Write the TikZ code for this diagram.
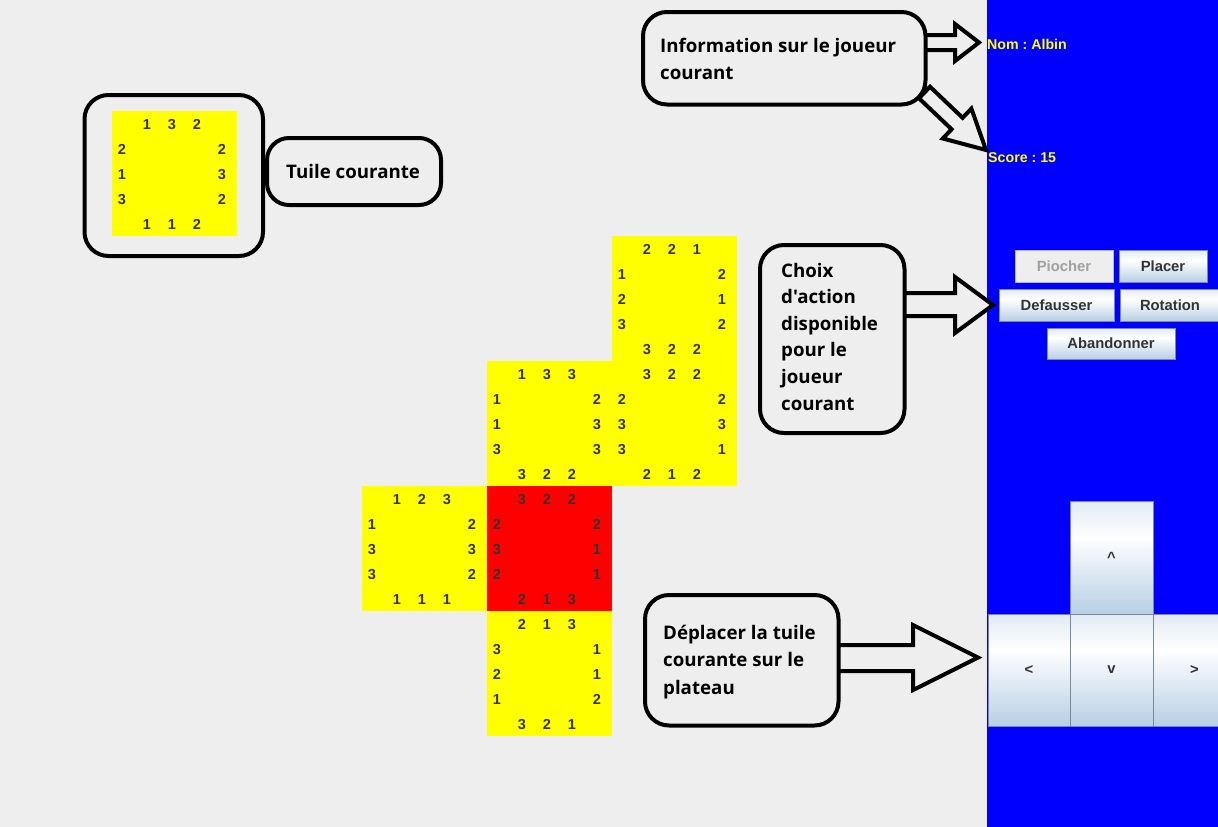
\documentclass[tikz,border=0pt]{standalone}
\usepackage{fontspec}
\setmainfont{Liberation Sans}
\newfontfamily\callfont{Open Sans}
\usetikzlibrary{calc}
\frenchspacing
\definecolor{bg}{HTML}{EEEEEE}
\definecolor{panel}{HTML}{0000FF}
\definecolor{tileY}{HTML}{FFFF00}
\definecolor{tileR}{HTML}{FF0000}
\definecolor{num}{HTML}{333333}
\definecolor{btnT}{HTML}{E1EAF3}
\definecolor{btnB}{HTML}{B8CFE5}
\definecolor{btnLine}{HTML}{7A8A99}
\definecolor{disLine}{HTML}{B8B8B8}
\definecolor{disTxt}{HTML}{A0A0A0}
\definecolor{nameY}{HTML}{FFFF00}
\pgfdeclareverticalshading{btnshade}{100bp}{color(0bp)=(btnB); color(25bp)=(btnB); color(59bp)=(white); color(75bp)=(btnT); color(100bp)=(btnT)}
\tikzset{
  tilebox/.style={minimum width=125pt,minimum height=125pt,inner sep=0pt,outer sep=0pt},
  numtxt/.style={inner sep=0pt,text=num,font=\bfseries\fontsize{14.5}{14.5}\selectfont},
  callbox/.style={draw=black,fill=bg,line width=4pt,rounded corners=24pt,inner sep=0pt},
  calltxt/.style={inner sep=0pt,anchor=base west,text=black,font=\callfont\bfseries\fontsize{18.7}{18.7}\selectfont},
  blockarrow/.style={draw=black,fill=bg,line width=4pt,line join=miter},
  btn/.style={draw=btnLine,line width=1pt,shade,shading=btnshade,inner sep=0pt,text=num,font=\bfseries\fontsize{14.8}{14.8}\selectfont},
  disbtn/.style={draw=disLine,line width=1pt,fill=bg,inner sep=0pt,text=disTxt,font=\bfseries\fontsize{14.8}{14.8}\selectfont},
  paneltxt/.style={inner sep=0pt,anchor=base west,text=nameY,font=\bfseries\fontsize{14.2}{14.2}\selectfont}
}
\newcommand\mytile[8]{%
  \node[tilebox,fill=#4] (#1) at (#2+62.5,#3+62.5) {};
  \foreach \v [count=\i] in {#5} {\node[numtxt] (#1t\i) at ($(#1.north west)+(10+25*\i,13.5)$) {\v};}
  \foreach \v [count=\i] in {#6} {\node[numtxt] (#1l\i) at ($(#1.north west)+(10,13.5+25*\i)$) {\v};}
  \foreach \v [count=\i] in {#7} {\node[numtxt] (#1r\i) at ($(#1.north west)+(110,13.5+25*\i)$) {\v};}
  \foreach \v [count=\i] in {#8} {\node[numtxt] (#1b\i) at ($(#1.north west)+(10+25*\i,113.5)$) {\v};}
}
\begin{document}
\begin{tikzpicture}[x=1pt,y=-1pt]
\useasboundingbox (0,0) rectangle (1218,827);
\clip (0,0) rectangle (1218,827);
\fill[bg] (0,0) rectangle (1218,827);
\fill[panel] (987,0) rectangle (1218,827);

% arrows
\draw[blockarrow] (921,35) -- (955,35) -- (955,24) -- (979,42.5) -- (955,61) -- (955,50) -- (921,50) -- cycle;
\draw[blockarrow] (930.0,86.7) -- (962.6,117.8) -- (971.4,108.6) -- (986,150) -- (942.8,138.5) -- (951.6,129.3) -- (919.0,98.3) -- cycle;
\draw[blockarrow] (900,293) -- (955,293) -- (955,277) -- (993,305) -- (955,333) -- (955,316) -- (900,316) -- cycle;
\draw[blockarrow] (835,645) -- (913,645) -- (913,625) -- (978,657.5) -- (913,690) -- (913,671) -- (835,671) -- cycle;

% callout boxes
\node[callbox,minimum width=178.5pt,minimum height=161pt] (curbox) at (173.75,175.5) {};
\node[callbox,rounded corners=22pt,minimum width=174pt,minimum height=67pt] (tuilebox) at (354,171.5) {};
\node[callbox,minimum width=282.5pt,minimum height=92.5pt] (infobox) at (784.25,58.25) {};
\node[callbox,minimum width=144.5pt,minimum height=188pt] (choixbox) at (832.25,339) {};
\node[callbox,minimum width=193.5pt,minimum height=130.5pt] (deplbox) at (741.75,660.25) {};

% callout texts
\node[calltxt] (tuile1) at (286,178) {Tuile courante};
\node[calltxt] (info1) at (660,52) {Information sur le joueur};
\node[calltxt] (info2) at (660,79) {courant};
\node[calltxt] (choix1) at (781,277) {Choix};
\node[calltxt] (choix2) at (781,303.6) {d'action};
\node[calltxt] (choix3) at (781,330.2) {disponible};
\node[calltxt] (choix4) at (781,356.8) {pour le};
\node[calltxt] (choix5) at (781,383.4) {joueur};
\node[calltxt] (choix6) at (781,410) {courant};
\node[calltxt] (depl1) at (663,639) {Déplacer la tuile};
\node[calltxt] (depl2) at (663,666.5) {courante sur le};
\node[calltxt] (depl3) at (663,694) {plateau};

% current tile
\mytile{cur}{112}{111}{tileY}{1,3,2}{2,1,3}{2,3,2}{1,1,2}
% board
\mytile{tA}{612}{236}{tileY}{2,2,1}{1,2,3}{2,1,2}{3,2,2}
\mytile{tB}{487}{361}{tileY}{1,3,3}{1,1,3}{2,3,3}{3,2,2}
\mytile{tC}{612}{361}{tileY}{3,2,2}{2,3,3}{2,3,1}{2,1,2}
\mytile{tD}{362}{486}{tileY}{1,2,3}{1,3,3}{2,3,2}{1,1,1}
\mytile{tE}{487}{486}{tileR}{3,2,2}{2,3,2}{2,1,1}{2,1,3}
\mytile{tF}{487}{611}{tileY}{2,1,3}{3,2,1}{1,1,2}{3,2,1}

% panel texts
\node[paneltxt] (nom) at (987,49) {Nom : Albin};
\node[paneltxt] (score) at (988,162) {Score : 15};

% buttons
\node[disbtn,minimum width=98pt,minimum height=32pt] (piocher) at (1064,266) {Piocher};
\node[btn,minimum width=88pt,minimum height=32pt] (placer) at (1163,266) {Placer};
\node[btn,minimum width=115pt,minimum height=32pt] (defausser) at (1056.5,305) {Defausser};
\node[btn,minimum width=100pt,minimum height=32pt] (rotation) at (1170,305) {Rotation};
\node[btn,minimum width=128pt,minimum height=31pt] (abandonner) at (1111,343.5) {Abandonner};

\node[btn,minimum width=83pt,minimum height=113pt] (up) at (1111.5,557.5) {\^{}};
\node[btn,minimum width=82pt,minimum height=112pt] (left) at (1029,670) {<};
\node[btn,minimum width=83pt,minimum height=112pt] (down) at (1111.5,670) {v};
\node[btn,minimum width=83pt,minimum height=112pt] (right) at (1194.5,670) {>};
\end{tikzpicture}
\end{document}
